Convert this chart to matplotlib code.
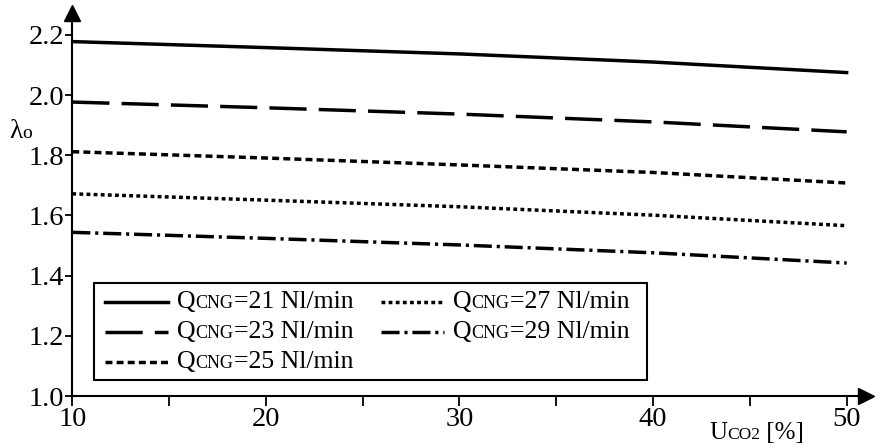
import matplotlib
matplotlib.use('Agg')
import matplotlib.pyplot as plt
from matplotlib.lines import Line2D
from matplotlib.patches import Rectangle
from matplotlib.offsetbox import (TextArea, DrawingArea, HPacker, VPacker,
                                  AnchoredOffsetbox)

plt.rcParams['font.family'] = ['Liberation Serif', 'DejaVu Serif']

# ----- Data -----
uco2 = [10, 20, 30, 40, 50]
q21 = [2.178, 2.158, 2.137, 2.110, 2.075]
q23 = [1.977, 1.958, 1.937, 1.911, 1.878]
q25 = [1.812, 1.791, 1.768, 1.743, 1.708]
q27 = [1.672, 1.651, 1.629, 1.601, 1.566]
q29 = [1.544, 1.524, 1.502, 1.476, 1.442]
flows = ['21', '23', '25', '27', '29']
series = [q21, q23, q25, q27, q29]

W, H = 875, 447
PT = 72 / 100   # points per pixel

lw = 2.5
styles = [dict(linestyle='-'),
          dict(dashes=(10.7, 3.5)),
          dict(dashes=(2.0, 1.2)),
          dict(dashes=(1.1, 0.95)),
          dict(dashes=(5.2, 1.4, 0.9, 1.4))]

fig = plt.figure(figsize=(W / 100, H / 100), dpi=100)
ax = fig.add_axes([72.3 / W, 1 - 396 / H, 793.7 / W, 383 / H])

for vals, st in zip(series, styles):
    ax.plot(uco2, vals, color='black', lw=lw, **st)

ax.set_xlim(10, 51.0)
ax.set_ylim(1.0, 2.273)
ax.set_xticks([10, 20, 30, 40, 50])
ax.set_xticks([15, 25, 35, 45], minor=True)
ax.set_yticks([1.0, 1.2, 1.4, 1.6, 1.8, 2.0, 2.2])
ax.set_yticklabels(['1.0', '1.2', '1.4', '1.6', '1.8', '2.0', '2.2'])
ax.tick_params(which='both', direction='out', length=7, width=1.3, labelsize=20.5, pad=1)
ax.tick_params(axis='y', length=5)

for s in ['top', 'right']:
    ax.spines[s].set_visible(False)
for s in ['left', 'bottom']:
    ax.spines[s].set_linewidth(1.5)

# arrow heads
ax.plot(1, 0, '>', color='black', ms=12, transform=ax.transAxes, clip_on=False)
ax.plot(0, 1, '^', color='black', ms=12, transform=ax.transAxes, clip_on=False)


# ----- Text with small caps parts -----
def smallcaps(big, small, rest, size, ratio=0.7):
    return HPacker(children=[TextArea(big, textprops=dict(fontsize=size)),
                             TextArea(small, textprops=dict(fontsize=size * ratio)),
                             TextArea(rest, textprops=dict(fontsize=size))],
                   align='baseline', pad=0, sep=0)


# axis labels
xlab = AnchoredOffsetbox(loc='lower left', child=smallcaps('U', 'CO2', ' [%]', 18),
                         bbox_to_anchor=(709 / W, 3 / H), bbox_transform=fig.transFigure,
                         frameon=False, pad=0, borderpad=0)
fig.add_artist(xlab)
ylab = AnchoredOffsetbox(loc='center left',
                         child=HPacker(children=[TextArea('λ', textprops=dict(fontsize=19.5)),
                                                 TextArea('o', textprops=dict(fontsize=14))],
                                       align='baseline', pad=0, sep=0),
                         bbox_to_anchor=(9 / W, 1 - 131 / H), bbox_transform=fig.transFigure,
                         frameon=False, pad=0, borderpad=0)
fig.add_artist(ylab)


# ----- Legend -----
def entry(st, flow):
    da = DrawingArea(63 * PT, 12 * PT, 0, 0)
    da.add_artist(Line2D([0, 63 * PT], [6 * PT, 6 * PT], color='black', lw=lw, **st))
    return HPacker(children=[da, smallcaps('Q', 'CNG', '=' + flow + ' Nl/min', 18.5)],
                   align='center', pad=0, sep=9 * PT)


rows = [entry(st, f) for st, f in zip(styles, flows)]
col1 = VPacker(children=rows[:3], align='left', pad=0, sep=8 * PT)
col2 = VPacker(children=rows[3:], align='left', pad=0, sep=8 * PT)
legbox = HPacker(children=[col1, col2], align='top', pad=0, sep=28 * PT)
leg = AnchoredOffsetbox(loc='upper left', child=legbox, pad=0, borderpad=0,
                        bbox_to_anchor=(105 / W, 1 - 291 / H), bbox_transform=fig.transFigure,
                        frameon=False)
fig.add_artist(leg)
fig.add_artist(Rectangle((94 / W, 1 - 380 / H), 553 / W, 97 / H, transform=fig.transFigure,
                         facecolor='none', edgecolor='black', lw=1.5))

plt.savefig('out.png', dpi=100)
